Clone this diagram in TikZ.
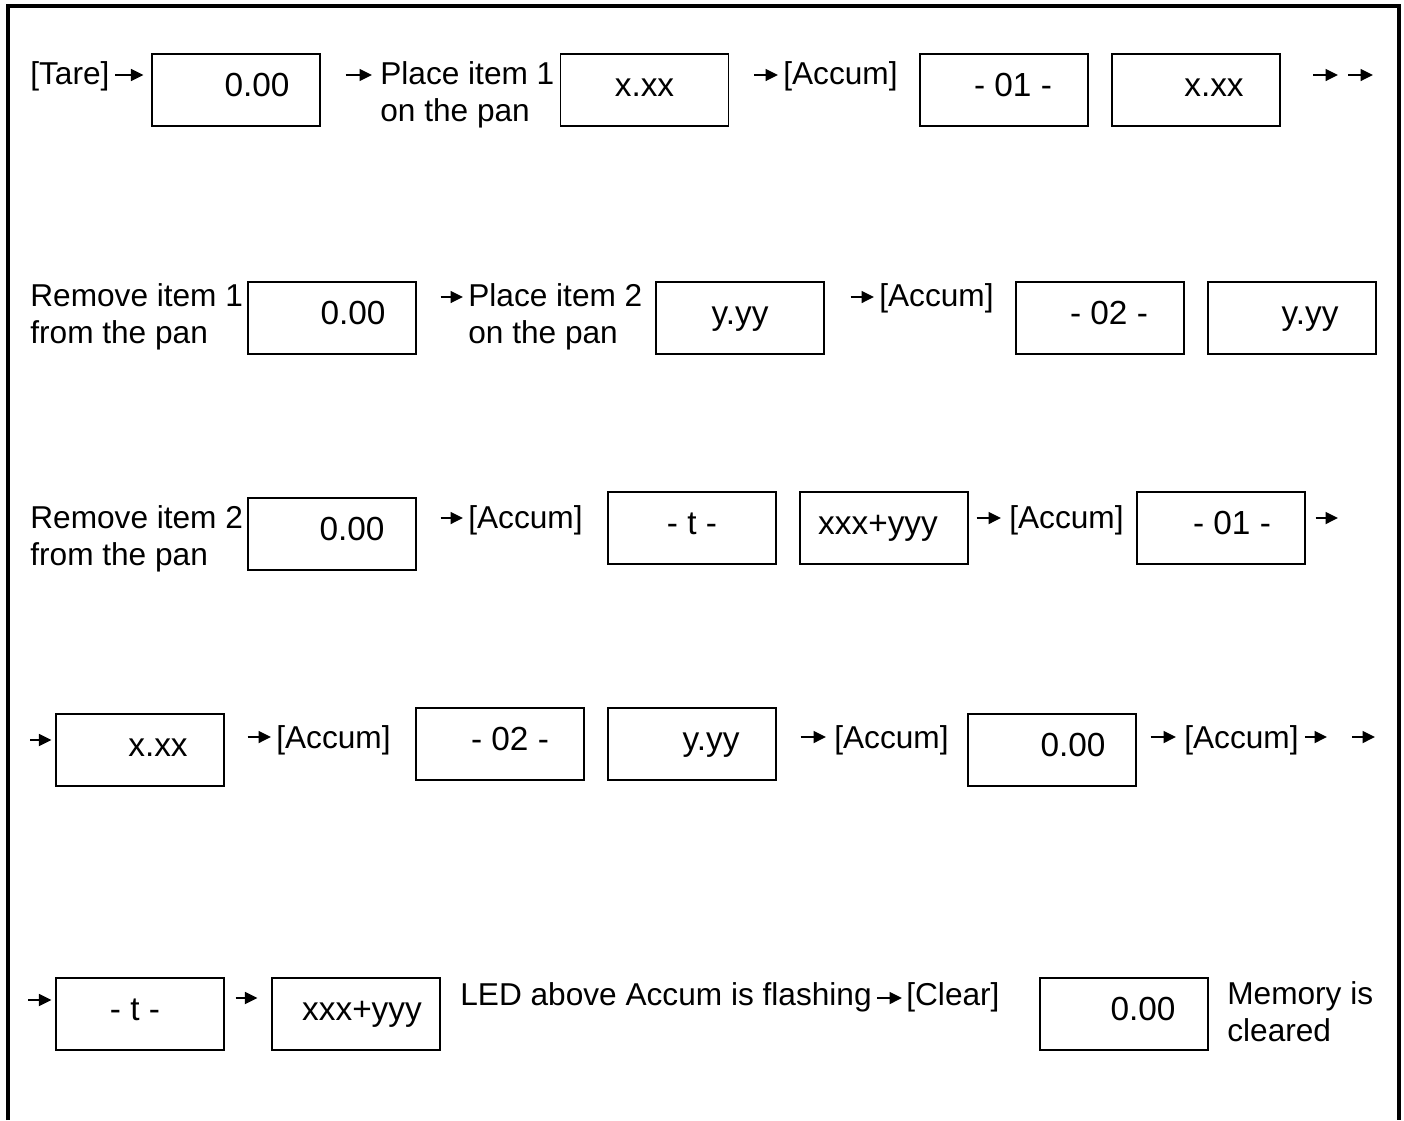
\documentclass[tikz,border=0pt]{standalone}
\usepackage{fontspec}
\setmainfont{Liberation Sans}
\usetikzlibrary{arrows.meta}

\tikzset{
  lcd/.style={draw, line width=.7pt, minimum width=3.36cm, minimum height=1.44cm,
    inner sep=0pt, text height=.47cm, text depth=.22cm,
    font=\fontsize{19}{22}\selectfont,
    execute at begin node={\hspace*{#1}}},
  lcd/.default=0cm,
  say/.style={anchor=base west, inner sep=0pt, align=left},
  arr/.style={arrows={-Triangle[length=.25cm,width=.24cm]}, line width=1pt},
}

\begin{document}
\begin{tikzpicture}[x=0.02cm, y=-0.02cm, font=\fontsize{18}{21}\selectfont]
\useasboundingbox (0,0) rectangle (1404,1120);
% frame, open at the bottom
\draw[line width=2.3pt] (8,1120) -- (8,6) -- (1399,6) -- (1399,1120);

% row 1
\coordinate (r1) at (0,75);
\node[say] (tare) at (30,84) {[Tare]};
\node[lcd=.84cm] (z1) at (236,90) {0.00};
\node[say] (place1) at (380,121) {Place item 1\\on the pan};
\node[lcd] (x1) at (644.5,90) {x.xx};
\node[say] (acc1) at (783,84) {[Accum]};
\node[lcd=.36cm] (c1) at (1004,90) {- 01 -};
\node[lcd=.72cm] (x1b) at (1196,90) {x.xx};
\coordinate (q1) at (1313,75);
\coordinate (q2) at (1338,75);
\coordinate (q3) at (1348,75);
\coordinate (q4) at (1373,75);
\draw[arr, shorten <=.11cm, shorten >=.16cm] (tare.east |- r1) -- (z1.west |- r1);
\draw[arr, shorten <=.5cm, shorten >=.16cm] (z1.east |- r1) -- (place1.west |- r1);
\draw[arr, shorten <=.5cm, shorten >=.1cm] (x1.east |- r1) -- (acc1.west |- r1);
\draw[arr] (q1) -- (q2);
\draw[arr] (q3) -- (q4);

% row 2
\coordinate (r2) at (0,297);
\node[say] (remove1) at (30,343) {Remove item 1\\from the pan};
\node[lcd=.84cm] (z2) at (332,318) {0.00};
\node[say] (place2) at (468,343) {Place item 2\\on the pan};
\node[lcd] (y2) at (740,318) {y.yy};
\node[say] (acc2) at (879,306) {[Accum]};
\node[lcd=.36cm] (c2) at (1100,318) {- 02 -};
\node[lcd=.72cm] (y2b) at (1292,318) {y.yy};
\draw[arr, shorten <=.48cm, shorten >=.1cm] (z2.east |- r2) -- (place2.west |- r2);
\draw[arr, shorten <=.52cm, shorten >=.1cm] (y2.east |- r2) -- (acc2.west |- r2);

% row 3
\coordinate (r3) at (0,518);
\node[say] (remove2) at (30,565) {Remove item 2\\from the pan};
\node[lcd=.8cm] (z3) at (332,534) {0.00};
\node[say] (acc3) at (468,528) {[Accum]};
\node[lcd] (t3) at (692,528) {- t -};
\node[lcd=-.24cm] (s3) at (884,528) {xxx+yyy};
\node[say] (acc4) at (1009,528) {[Accum]};
\node[lcd=.44cm] (c3) at (1221,528) {- 01 -};
\coordinate (q5) at (1338,518);
\draw[arr, shorten <=.48cm, shorten >=.1cm] (z3.east |- r3) -- (acc3.west |- r3);
\draw[arr, shorten <=.16cm, shorten >=.16cm] (s3.east |- r3) -- (acc4.west |- r3);
\draw[arr, shorten <=.2cm] (c3.east |- r3) -- (q5);

% row 4
\coordinate (r4) at (0,737);
\coordinate (q8) at (30,740);
\node[lcd=.72cm] (x4) at (140,750) {x.xx};
\node[say] (acc5) at (276,748) {[Accum]};
\node[lcd=.4cm] (c4) at (500,744) {- 02 -};
\node[lcd=.76cm] (y4) at (692,744) {y.yy};
\node[say] (acc6) at (834,748) {[Accum]};
\node[lcd=.84cm] (z4) at (1052,750) {0.00};
\node[say] (acc7) at (1184,748) {[Accum]};
\coordinate (q6) at (1327,737);
\coordinate (q7) at (1352,737);
\coordinate (q7b) at (1375,737);
\draw[arr, shorten >=.08cm] (q8) -- (q8 -| x4.west);
\draw[arr, shorten <=.46cm, shorten >=.1cm] (x4.east |- r4) -- (acc5.west |- r4);
\draw[arr, shorten <=.48cm, shorten >=.16cm] (y4.east |- r4) -- (acc6.west |- r4);
\draw[arr, shorten <=.28cm, shorten >=.16cm] (z4.east |- r4) -- (acc7.west |- r4);
\draw[arr, shorten <=.12cm] (acc7.east |- r4) -- (q6);
\draw[arr] (q7) -- (q7b);

% row 5
\coordinate (r5) at (0,998);
\coordinate (q9) at (28,1000);
\node[lcd=-.2cm] (t5) at (140,1014) {- t -};
\node[lcd=.24cm] (s5) at (356,1014) {xxx+yyy};
\node[say] (led) at (460,1005) {LED above Accum is flashing};
\node[say] (clear) at (906,1005) {[Clear]};
\node[lcd=.76cm] (z5) at (1124,1014) {0.00};
\node[say] (memory) at (1227,1041) {Memory is\\cleared};
\draw[arr, shorten >=.08cm] (q9) -- (q9 -| t5.west);
\draw[arr, shorten <=.22cm, shorten >=.28cm] (t5.east |- r5) -- (s5.west |- r5);
\draw[arr, shorten <=.1cm, shorten >=.08cm] (led.east |- r5) -- (clear.west |- r5);
\end{tikzpicture}
\end{document}
